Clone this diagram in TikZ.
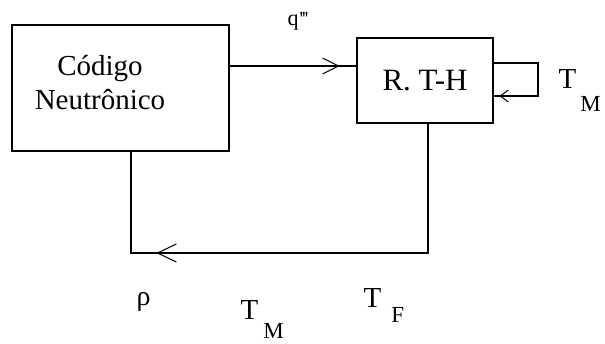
\documentclass[tikz,border=0pt]{standalone}
\usepackage{fontspec}
\setmainfont{Liberation Serif}
\usetikzlibrary{decorations.markings}
\newcommand{\mysub}[4]{#1\hspace{#4}\raisebox{-#3}{\fontsize{23}{23}\selectfont #2}}
\begin{document}
\begin{tikzpicture}[x=1pt,y=-1pt,line width=1.2pt,
  box/.style={draw,line width=1.2pt,inner sep=0pt},
  boxtext/.style={font=\fontsize{29}{34}\selectfont,align=center,inner sep=0pt},
  lab/.style={inner sep=0pt,anchor=base west,font=\fontsize{29}{29}\selectfont},
  chev/.style args={#1/#2/#3}{postaction={decorate},decoration={markings,
     mark=at position #1 with {\draw[line width=1pt] (-#2,#3) -- (0pt,0pt) -- (-#2,-#3);}}}
]
\useasboundingbox (0,0) rectangle (605,344);
% boxes
\node[box,minimum width=217pt,minimum height=126pt] (cn) at (120.5,88) {};
\node[boxtext] (cnt) at (100,83) {Código\\Neutrônico};
\node[box,minimum width=136pt,minimum height=85pt,font=\fontsize{31}{31}\selectfont] (rth) at (425,80.5) {R. T-H};
% coordinates
\coordinate (loopR) at (538,63);
\coordinate (loopRb) at (538,96);
\coordinate (botR) at (428,253);
\coordinate (botL) at (131,253);
% connectors
\draw[chev=109pt/16pt/8pt] ([yshift=22pt]cn.east) -- ([yshift=14.5pt]rth.west);
\draw[chev=115pt/8pt/6pt] ([yshift=17.5pt]rth.east) -- (loopR) -- (loopRb) -- ([yshift=-15.5pt]rth.east);
\draw[chev=400pt/19pt/9pt] (rth.south -| botR) -- (botR) -- (botL) -- (cn.south -| botL);
% labels
\node[inner sep=0pt,anchor=base west,font=\fontsize{22}{22}\selectfont] (q) at (287,26) {q\hspace{1pt}\raisebox{0pt}{\fontsize{20}{20}\selectfont\textquotesingle\kern-1pt\textquotesingle\kern-1pt\textquotesingle}};
\node[lab] (tm1) at (558,89) {\mysub{T}{M}{23pt}{4pt}};
\node[lab,font=\fontsize{28}{28}\selectfont] (rho) at (136,306) {ρ};
\node[lab] (tm2) at (240,320) {\mysub{T}{M}{19pt}{5pt}};
\node[lab] (tf) at (363,308) {\mysub{T}{F}{15pt}{10pt}};
\end{tikzpicture}
\end{document}
